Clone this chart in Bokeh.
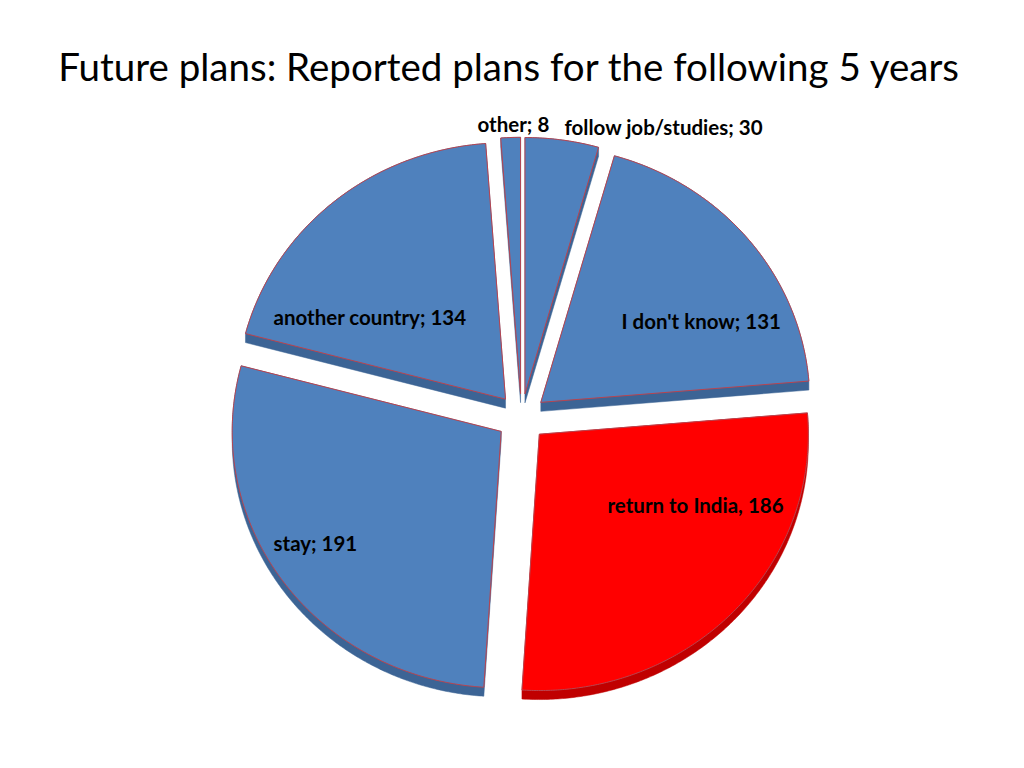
import numpy as np
from bokeh.plotting import figure
from bokeh.models import Range1d, ColumnDataSource
from bokeh.core.properties import value
from bokeh.embed import file_html
from bokeh.resources import INLINE

# ---------------- data ----------------
title_text = "Future plans: Reported plans for the following 5 years"
categories = ["follow job/studies", "I don't know", "return to India", "stay", "another country", "other"]
counts = [30, 131, 186, 191, 134, 8]
label_texts = ["follow job/studies; 30", "I don't know; 131", "return to India, 186",
               "stay; 191", "another country; 134", "other; 8"]

# ---------------- style / layout ----------------
top_colors = ["#4F81BD", "#4F81BD", "#FF0000", "#4F81BD", "#4F81BD", "#4F81BD"]
side_colors = ["#3C6495", "#3C6495", "#C00000", "#3C6495", "#3C6495", "#3C6495"]
edge_color = "#B9444F"
W, H = 1008, 752
SCREEN_H = 768
CX, CY = 521, SCREEN_H - 417
R, K, EXPLODE, DEPTH = 269, 0.953, 25, 9
label_pos = [(564, 126), (621, 320), (607, 504), (273, 542), (273, 316), (477, 123)]  # screen px


def hull(points):
    pts = sorted(set(points))
    def cross(o, a, b):
        return (a[0]-o[0])*(b[1]-o[1]) - (a[1]-o[1])*(b[0]-o[0])
    lower, upper = [], []
    for p_ in pts:
        while len(lower) >= 2 and cross(lower[-2], lower[-1], p_) <= 0:
            lower.pop()
        lower.append(p_)
    for p_ in reversed(pts):
        while len(upper) >= 2 and cross(upper[-2], upper[-1], p_) <= 0:
            upper.pop()
        upper.append(p_)
    h = lower[:-1] + upper[:-1]
    return [q[0] for q in h], [q[1] for q in h]


vals = np.array(counts, dtype=float)
frac = vals / vals.sum()
ends = np.cumsum(frac) * 2 * np.pi
starts = ends - frac * 2 * np.pi

top_xs, top_ys, side_xs, side_ys = [], [], [], []
for s, e in zip(starts, ends):
    mid = (s + e) / 2
    ox = CX + EXPLODE * np.sin(mid)
    oy = CY + EXPLODE * np.cos(mid) * K
    n = max(int(np.degrees(e - s) * 2), 6)
    th = np.linspace(s, e, n)
    xs = np.concatenate([[ox], ox + R * np.sin(th)])
    ys = np.concatenate([[oy], oy + R * K * np.cos(th)])
    top_xs.append(list(xs))
    top_ys.append(list(ys))
    pts = [(round(float(x), 3), round(float(y), 3)) for x, y in zip(xs, ys)]
    pts += [(x, round(y - DEPTH, 3)) for x, y in pts]
    hx, hy = hull(pts)
    side_xs.append(hx)
    side_ys.append(hy)

p = figure(width=W, height=H, x_range=Range1d(0, W), y_range=Range1d(SCREEN_H - H, SCREEN_H),
           output_backend="svg", toolbar_location=None, min_border=0)
p.axis.visible = False
p.grid.visible = False
p.outline_line_color = None
p.background_fill_color = "white"

side_src = ColumnDataSource(dict(xs=side_xs, ys=side_ys, c=side_colors))
p.patches("xs", "ys", source=side_src, fill_color="c", line_color="c", line_width=0.5)
top_src = ColumnDataSource(dict(xs=top_xs, ys=top_ys, c=top_colors, cat=categories, n=counts))
p.patches("xs", "ys", source=top_src, fill_color="c", line_color=edge_color, line_width=1)

lab_src = ColumnDataSource(dict(x=[q[0] for q in label_pos], y=[SCREEN_H - q[1] for q in label_pos], t=label_texts))
p.text("x", "y", text="t", source=lab_src, text_font=value("Lato"), text_font_style="bold",
       text_font_size="20.5px", text_color="black", text_align="left", text_baseline="middle")

p.text(x=[509], y=[SCREEN_H - 65], text=[title_text], text_font=value("Lato"), text_font_size="38.5px",
       text_color="black", text_align="center", text_baseline="middle")

open("out.html", "w").write(file_html(p, INLINE))
